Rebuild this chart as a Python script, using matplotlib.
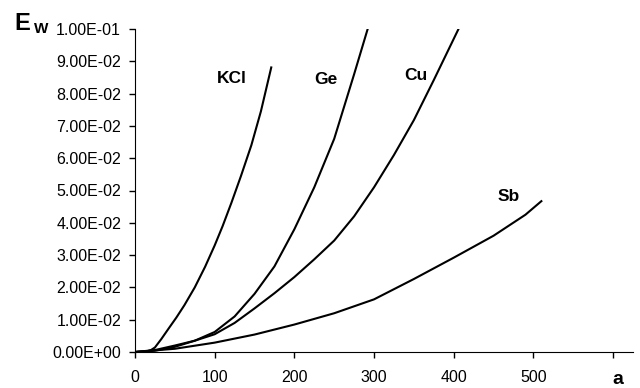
import matplotlib
matplotlib.use("Agg")
import matplotlib.pyplot as plt
from matplotlib.ticker import FuncFormatter, MultipleLocator

# curves (a, E_w)
kcl_a = [0, 10, 15, 20, 25, 33, 42, 52, 62, 75, 88, 100, 110, 121, 133, 146, 158, 171]
kcl_e = [0, 0.0001, 0.0002, 0.0006, 0.0014, 0.0040, 0.0072, 0.0107, 0.0145, 0.0200,
         0.0264, 0.0330, 0.0390, 0.0462, 0.0545, 0.0640, 0.0745, 0.0881]

ge_a = [0, 25, 50, 75, 100, 125, 150, 175, 200, 225, 250, 275, 292]
ge_e = [0, 0.0004, 0.0016, 0.0035, 0.0062, 0.0110, 0.0180, 0.0265, 0.0380, 0.0510,
        0.0660, 0.0860, 0.100]

cu_a = [0, 25, 50, 75, 100, 125, 150, 175, 200, 225, 250, 275, 300, 325, 350, 375, 406]
cu_e = [0, 0.0006, 0.0020, 0.0035, 0.0055, 0.0090, 0.0135, 0.0182, 0.0232, 0.0287,
        0.0345, 0.0420, 0.0510, 0.0610, 0.0718, 0.0842, 0.100]

sb_a = [0, 50, 100, 150, 200, 250, 300, 350, 400, 450, 490, 510]
sb_e = [0, 0.0010, 0.0029, 0.0054, 0.0085, 0.0120, 0.0163, 0.0226, 0.0292, 0.0360,
        0.0425, 0.0467]

labels = ["KCl", "Ge", "Cu", "Sb"]
label_pos = [(121, 0.0848), (240, 0.0845), (353, 0.0855), (469, 0.0481)]

plt.rcParams["font.family"] = ["Liberation Sans", "DejaVu Sans"]

fig = plt.figure(figsize=(6.4, 3.88), dpi=100)
ax = fig.add_axes([135 / 640, 36 / 388, 498 / 640, 323 / 388])

for a, e in [(kcl_a, kcl_e), (ge_a, ge_e), (cu_a, cu_e), (sb_a, sb_e)]:
    ax.plot(a, e, color="black", lw=1.5, solid_joinstyle="round")

for name, (x, y) in zip(labels, label_pos):
    ax.text(x, y, name, fontsize=12.5, fontweight="bold", ha="center", va="center")

ax.set_xlim(0, 625)
ax.set_ylim(0, 0.1)
ax.xaxis.set_major_locator(MultipleLocator(100))
ax.xaxis.set_major_formatter(FuncFormatter(lambda v, p: "" if v > 550 else f"{v:.0f}"))
ax.yaxis.set_major_locator(MultipleLocator(0.01))
ax.yaxis.set_major_formatter(FuncFormatter(lambda v, p: f"{v:.2E}"))
ax.spines["top"].set_visible(False)
ax.spines["right"].set_visible(False)
ax.tick_params(direction="out", length=4, width=1, labelsize=11.5)
ax.tick_params(axis="x", pad=9)
ax.tick_params(axis="y", pad=6)

fig.text(14 / 640, 1 - 30 / 388, "E", fontsize=17, fontweight="bold", va="baseline", ha="left")
fig.text(34 / 640, 1 - 33 / 388, "W", fontsize=11, fontweight="bold", va="baseline", ha="left")
fig.text(618 / 640, 1 - 384 / 388, "a", fontsize=14, fontweight="bold", va="baseline", ha="center")

fig.savefig("out.png", dpi=100)
